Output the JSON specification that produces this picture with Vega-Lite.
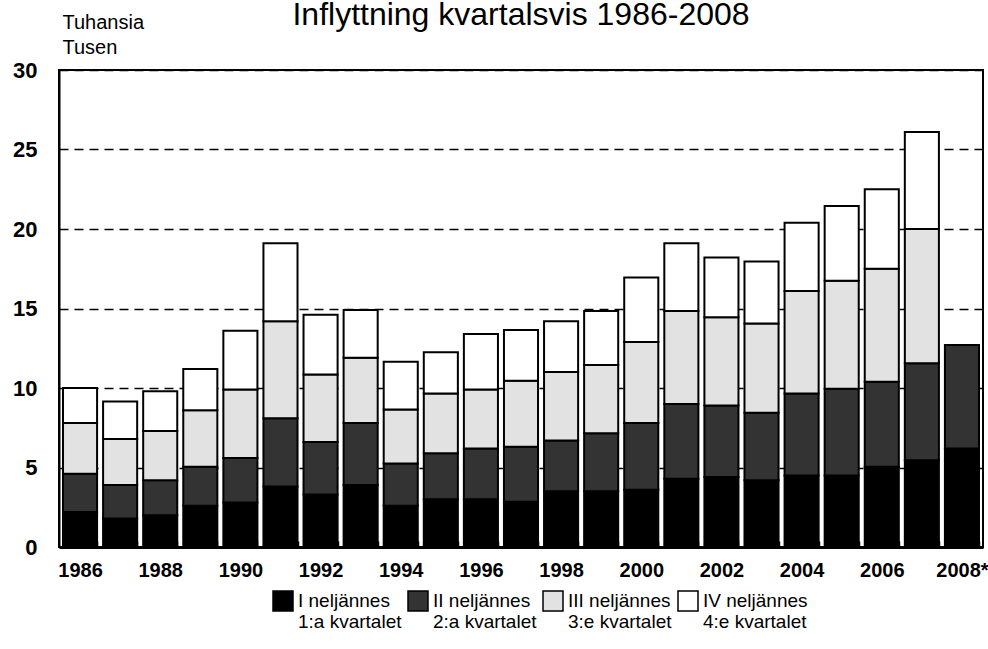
{
  "$schema": "https://vega.github.io/schema/vega-lite/v6.json",
  "autosize": {"type": "none"},
  "width": 924,
  "height": 477,
  "padding": {"left": 59, "top": 70, "right": 5, "bottom": 102},
  "background": "white",
  "title": {
    "text": "Inflyttning kvartalsvis 1986-2008",
    "font": "Liberation Sans",
    "fontSize": 32,
    "fontWeight": "normal",
    "color": "black",
    "baseline": "alphabetic",
    "anchor": "middle",
    "offset": 0,
    "dy": 45
  },
  "data": {
    "values": [
      {"year": "1986", "q": 1, "quarter": "I neljännes", "value": 2.2},
      {"year": "1986", "q": 2, "quarter": "II neljännes", "value": 2.4},
      {"year": "1986", "q": 3, "quarter": "III neljännes", "value": 3.2},
      {"year": "1986", "q": 4, "quarter": "IV neljännes", "value": 2.2},
      {"year": "1987", "q": 1, "quarter": "I neljännes", "value": 1.8},
      {"year": "1987", "q": 2, "quarter": "II neljännes", "value": 2.1},
      {"year": "1987", "q": 3, "quarter": "III neljännes", "value": 2.9},
      {"year": "1987", "q": 4, "quarter": "IV neljännes", "value": 2.35},
      {"year": "1988", "q": 1, "quarter": "I neljännes", "value": 2.0},
      {"year": "1988", "q": 2, "quarter": "II neljännes", "value": 2.2},
      {"year": "1988", "q": 3, "quarter": "III neljännes", "value": 3.1},
      {"year": "1988", "q": 4, "quarter": "IV neljännes", "value": 2.5},
      {"year": "1989", "q": 1, "quarter": "I neljännes", "value": 2.6},
      {"year": "1989", "q": 2, "quarter": "II neljännes", "value": 2.45},
      {"year": "1989", "q": 3, "quarter": "III neljännes", "value": 3.55},
      {"year": "1989", "q": 4, "quarter": "IV neljännes", "value": 2.6},
      {"year": "1990", "q": 1, "quarter": "I neljännes", "value": 2.8},
      {"year": "1990", "q": 2, "quarter": "II neljännes", "value": 2.8},
      {"year": "1990", "q": 3, "quarter": "III neljännes", "value": 4.3},
      {"year": "1990", "q": 4, "quarter": "IV neljännes", "value": 3.7},
      {"year": "1991", "q": 1, "quarter": "I neljännes", "value": 3.8},
      {"year": "1991", "q": 2, "quarter": "II neljännes", "value": 4.3},
      {"year": "1991", "q": 3, "quarter": "III neljännes", "value": 6.1},
      {"year": "1991", "q": 4, "quarter": "IV neljännes", "value": 4.9},
      {"year": "1992", "q": 1, "quarter": "I neljännes", "value": 3.3},
      {"year": "1992", "q": 2, "quarter": "II neljännes", "value": 3.3},
      {"year": "1992", "q": 3, "quarter": "III neljännes", "value": 4.25},
      {"year": "1992", "q": 4, "quarter": "IV neljännes", "value": 3.75},
      {"year": "1993", "q": 1, "quarter": "I neljännes", "value": 3.9},
      {"year": "1993", "q": 2, "quarter": "II neljännes", "value": 3.9},
      {"year": "1993", "q": 3, "quarter": "III neljännes", "value": 4.1},
      {"year": "1993", "q": 4, "quarter": "IV neljännes", "value": 3.0},
      {"year": "1994", "q": 1, "quarter": "I neljännes", "value": 2.6},
      {"year": "1994", "q": 2, "quarter": "II neljännes", "value": 2.65},
      {"year": "1994", "q": 3, "quarter": "III neljännes", "value": 3.4},
      {"year": "1994", "q": 4, "quarter": "IV neljännes", "value": 3.0},
      {"year": "1995", "q": 1, "quarter": "I neljännes", "value": 3.0},
      {"year": "1995", "q": 2, "quarter": "II neljännes", "value": 2.9},
      {"year": "1995", "q": 3, "quarter": "III neljännes", "value": 3.75},
      {"year": "1995", "q": 4, "quarter": "IV neljännes", "value": 2.6},
      {"year": "1996", "q": 1, "quarter": "I neljännes", "value": 3.0},
      {"year": "1996", "q": 2, "quarter": "II neljännes", "value": 3.2},
      {"year": "1996", "q": 3, "quarter": "III neljännes", "value": 3.7},
      {"year": "1996", "q": 4, "quarter": "IV neljännes", "value": 3.5},
      {"year": "1997", "q": 1, "quarter": "I neljännes", "value": 2.85},
      {"year": "1997", "q": 2, "quarter": "II neljännes", "value": 3.45},
      {"year": "1997", "q": 3, "quarter": "III neljännes", "value": 4.15},
      {"year": "1997", "q": 4, "quarter": "IV neljännes", "value": 3.2},
      {"year": "1998", "q": 1, "quarter": "I neljännes", "value": 3.5},
      {"year": "1998", "q": 2, "quarter": "II neljännes", "value": 3.2},
      {"year": "1998", "q": 3, "quarter": "III neljännes", "value": 4.3},
      {"year": "1998", "q": 4, "quarter": "IV neljännes", "value": 3.2},
      {"year": "1999", "q": 1, "quarter": "I neljännes", "value": 3.5},
      {"year": "1999", "q": 2, "quarter": "II neljännes", "value": 3.65},
      {"year": "1999", "q": 3, "quarter": "III neljännes", "value": 4.3},
      {"year": "1999", "q": 4, "quarter": "IV neljännes", "value": 3.4},
      {"year": "2000", "q": 1, "quarter": "I neljännes", "value": 3.6},
      {"year": "2000", "q": 2, "quarter": "II neljännes", "value": 4.2},
      {"year": "2000", "q": 3, "quarter": "III neljännes", "value": 5.1},
      {"year": "2000", "q": 4, "quarter": "IV neljännes", "value": 4.05},
      {"year": "2001", "q": 1, "quarter": "I neljännes", "value": 4.3},
      {"year": "2001", "q": 2, "quarter": "II neljännes", "value": 4.7},
      {"year": "2001", "q": 3, "quarter": "III neljännes", "value": 5.85},
      {"year": "2001", "q": 4, "quarter": "IV neljännes", "value": 4.25},
      {"year": "2002", "q": 1, "quarter": "I neljännes", "value": 4.4},
      {"year": "2002", "q": 2, "quarter": "II neljännes", "value": 4.5},
      {"year": "2002", "q": 3, "quarter": "III neljännes", "value": 5.55},
      {"year": "2002", "q": 4, "quarter": "IV neljännes", "value": 3.75},
      {"year": "2003", "q": 1, "quarter": "I neljännes", "value": 4.2},
      {"year": "2003", "q": 2, "quarter": "II neljännes", "value": 4.25},
      {"year": "2003", "q": 3, "quarter": "III neljännes", "value": 5.6},
      {"year": "2003", "q": 4, "quarter": "IV neljännes", "value": 3.9},
      {"year": "2004", "q": 1, "quarter": "I neljännes", "value": 4.5},
      {"year": "2004", "q": 2, "quarter": "II neljännes", "value": 5.15},
      {"year": "2004", "q": 3, "quarter": "III neljännes", "value": 6.45},
      {"year": "2004", "q": 4, "quarter": "IV neljännes", "value": 4.3},
      {"year": "2005", "q": 1, "quarter": "I neljännes", "value": 4.5},
      {"year": "2005", "q": 2, "quarter": "II neljännes", "value": 5.45},
      {"year": "2005", "q": 3, "quarter": "III neljännes", "value": 6.8},
      {"year": "2005", "q": 4, "quarter": "IV neljännes", "value": 4.7},
      {"year": "2006", "q": 1, "quarter": "I neljännes", "value": 5.05},
      {"year": "2006", "q": 2, "quarter": "II neljännes", "value": 5.35},
      {"year": "2006", "q": 3, "quarter": "III neljännes", "value": 7.1},
      {"year": "2006", "q": 4, "quarter": "IV neljännes", "value": 5.0},
      {"year": "2007", "q": 1, "quarter": "I neljännes", "value": 5.45},
      {"year": "2007", "q": 2, "quarter": "II neljännes", "value": 6.1},
      {"year": "2007", "q": 3, "quarter": "III neljännes", "value": 8.45},
      {"year": "2007", "q": 4, "quarter": "IV neljännes", "value": 6.1},
      {"year": "2008", "q": 1, "quarter": "I neljännes", "value": 6.2},
      {"year": "2008", "q": 2, "quarter": "II neljännes", "value": 6.5}
    ]
  },
  "mark": {"type": "bar", "stroke": "black", "strokeWidth": 2},
  "encoding": {
    "x": {
      "field": "year",
      "type": "ordinal",
      "scale": {"paddingInner": 0.15, "paddingOuter": 0.1},
      "axis": {
        "title": null,
        "labelAngle": 0,
        "labelFont": "Liberation Sans",
        "labelFontWeight": "bold",
        "labelFontSize": 20,
        "labelColor": "black",
        "labelBaseline": "top",
        "labelPadding": 19,
        "labelExpr": "toNumber(datum.value) % 2 == 0 ? (datum.value == '2008' ? '2008*' : datum.value) : ''",
        "ticks": true,
        "tickBand": "extent",
        "tickSize": -6,
        "tickColor": "black",
        "tickWidth": 1.5,
        "domainColor": "black",
        "domainWidth": 3,
        "grid": false
      }
    },
    "y": {
      "field": "value",
      "type": "quantitative",
      "stack": "zero",
      "scale": {"domain": [0, 30], "nice": false},
      "axis": {
        "title": ["Tuhansia", "Tusen"],
        "titleAngle": 0,
        "titleAlign": "left",
        "titleBaseline": "alphabetic",
        "titleX": 3,
        "titleY": -42,
        "titleFont": "Liberation Sans",
        "titleFontSize": 20,
        "titleFontWeight": "normal",
        "titleColor": "black",
        "titleLineHeight": 25,
        "values": [0, 5, 10, 15, 20, 25, 30],
        "labelFont": "Liberation Sans",
        "labelFontWeight": "bold",
        "labelFontSize": 22,
        "labelColor": "black",
        "labelPadding": 22,
        "ticks": false,
        "domainColor": "black",
        "domainWidth": 2,
        "grid": true,
        "gridColor": "black",
        "gridWidth": 1.5,
        "gridDash": [9, 6]
      }
    },
    "color": {
      "field": "quarter",
      "type": "nominal",
      "scale": {
        "domain": ["I neljännes", "II neljännes", "III neljännes", "IV neljännes"],
        "range": ["#000000", "#333333", "#e2e2e2", "#ffffff"]
      },
      "legend": {
        "title": null,
        "orient": "none",
        "legendX": 213,
        "legendY": 526,
        "direction": "horizontal",
        "columns": 4,
        "gridAlign": "none",
        "columnPadding": 3,
        "symbolType": "M-1,-1.6H1V0.4H-1Z",
        "symbolSize": 400,
        "symbolStrokeColor": "black",
        "symbolStrokeWidth": 1.5,
        "symbolOpacity": 1,
        "labelFont": "Liberation Sans",
        "labelFontSize": 19,
        "labelColor": "black",
        "labelBaseline": "alphabetic",
        "labelLimit": 300,
        "labelOffset": 4,
        "labelExpr": "datum.label == 'I neljännes' ? ['I neljännes', '1:a kvartalet'] : datum.label == 'II neljännes' ? ['II neljännes', '2:a kvartalet'] : datum.label == 'III neljännes' ? ['III neljännes', '3:e kvartalet'] : ['IV neljännes', '4:e kvartalet']"
      }
    },
    "order": {"field": "q", "type": "quantitative", "sort": "ascending"}
  },
  "config": {
    "view": {"stroke": "black", "strokeWidth": 2},
    "text": {"lineHeight": 23}
  }
}
